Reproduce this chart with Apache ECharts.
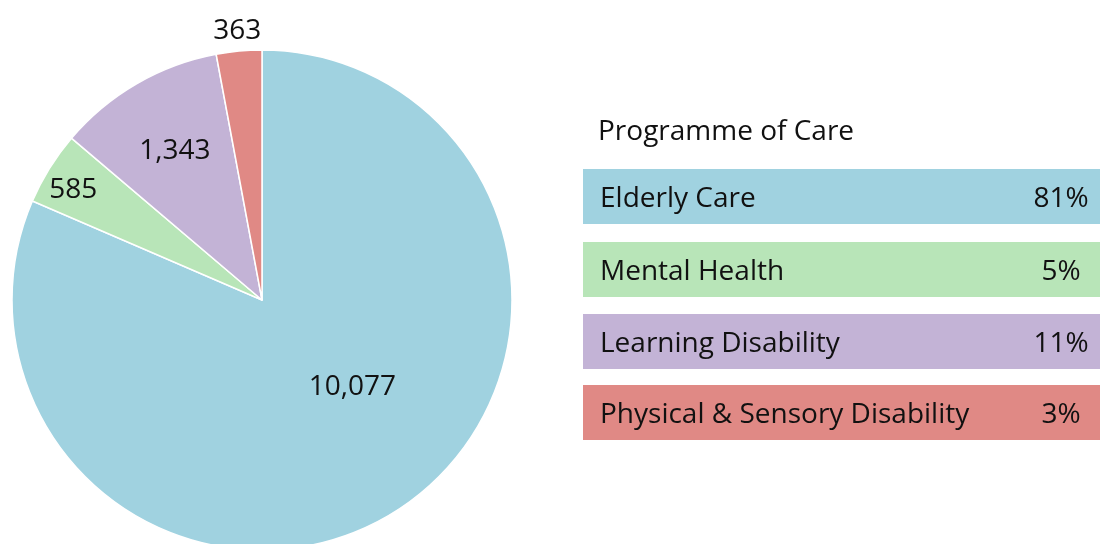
<!DOCTYPE html>
<html>
<head>
<meta charset="utf-8">
<script src="https://cdn.jsdelivr.net/npm/echarts@6/dist/echarts.min.js"></script>
<style>
  html, body { margin: 0; padding: 0; background: #fff; }
  #chart { width: 1100px; height: 544px; }
</style>
</head>
<body>
<div id="chart"></div>
<script>
const categories = ['Elderly Care', 'Mental Health', 'Learning Disability', 'Physical & Sensory Disability']
const values = [10077, 585, 1343, 363]
const colors = ['#a0d2e0', '#b8e5b8', '#c3b3d6', '#e08985']
const legendTitle = 'Programme of Care'

// hand-placed label nudges, like the original
const labelOffsets = [[20, -20], [-80, -42], [-23, -38], [-13, -142]]

const font = '"Open Sans", Lato, sans-serif'
const total = values.reduce((a, b) => a + b, 0)

const chart = echarts.init(document.getElementById('chart'))

const graphics = [
  {
    type: 'text',
    x: 598,
    y: 132,
    style: { text: legendTitle, font: '28px ' + font, fill: '#111', textVerticalAlign: 'middle' }
  }
]
const boxTops = [169, 242, 314, 385]
categories.forEach((name, i) => {
  graphics.push({
    type: 'rect',
    shape: { x: 583, y: boxTops[i], width: 520, height: 55 },
    style: { fill: colors[i] }
  })
  graphics.push({
    type: 'text',
    x: 600,
    y: boxTops[i] + 30,
    style: { text: name, font: '28px ' + font, fill: '#111', textVerticalAlign: 'middle' }
  })
  graphics.push({
    type: 'text',
    x: 1061,
    y: boxTops[i] + 30,
    style: {
      text: Math.round(values[i] / total * 100) + '%',
      font: '28px ' + font,
      fill: '#111',
      textAlign: 'center',
      textVerticalAlign: 'middle'
    }
  })
})

chart.setOption({
  animation: false,
  graphic: graphics,
  series: [
    {
      type: 'pie',
      center: [262, 300],
      radius: 250,
      startAngle: 90,
      clockwise: true,
      itemStyle: { borderColor: '#fff', borderWidth: 1.5 },
      label: {
        show: true,
        position: 'inside',
        fontFamily: font,
        fontSize: 28,
        color: '#111',
        formatter: p => p.value.toLocaleString('en-US')
      },
      labelLine: { show: false },
      emphasis: { disabled: true },
      data: categories.map((name, i) => ({
        name: name,
        value: values[i],
        itemStyle: { color: colors[i] },
        label: { offset: labelOffsets[i] }
      }))
    }
  ]
})
</script>
</body>
</html>
